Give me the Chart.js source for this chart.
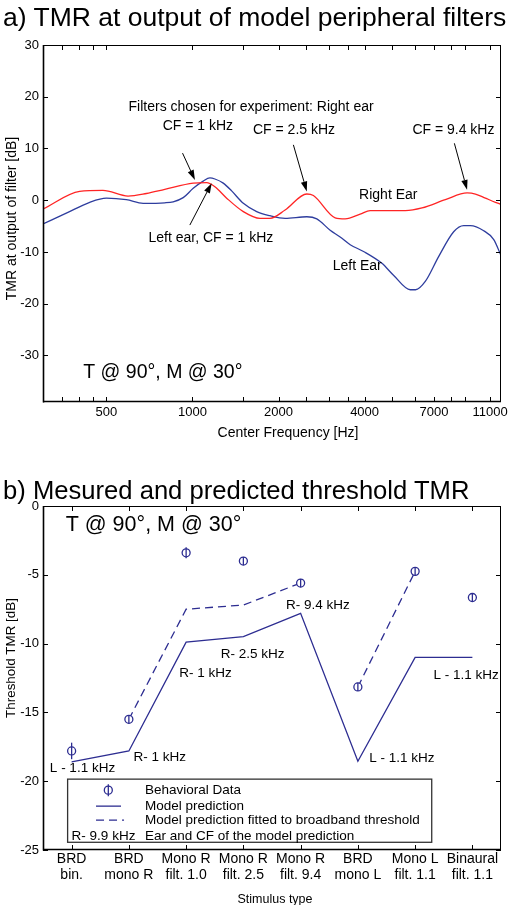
<!DOCTYPE html>
<html><head><meta charset="utf-8">
<script src="https://cdn.jsdelivr.net/npm/chart.js@4/dist/chart.umd.min.js"></script>
<style>
html,body{margin:0;padding:0;background:#fff;}
body{width:510px;height:905px;position:relative;overflow:hidden;font-family:"Liberation Sans",Arial,sans-serif;}
canvas{position:absolute;left:0;}
.ttl{position:absolute;left:3px;white-space:nowrap;color:#000;line-height:34px;height:34px;}
</style></head><body>
<canvas id="c1" width="510" height="450" style="top:0px"></canvas>
<canvas id="c2" width="510" height="450" style="top:455px"></canvas>
<div class="ttl" id="t1" style="top:0px">a) TMR at output of model peripheral filters</div>
<div class="ttl" id="t2" style="top:473px">b) Mesured and predicted threshold TMR</div>
<script>
// ---------- DATA (a) ----------
const rightFreq = [300,403,486,595,690,800,1006,1121,1198,1317,1506,1723,1867,2108,2511,2648,3155,3421,3860,4185,5551,6352,7665,9131,9767,10586,11476,12000];
const rightTMR  = [-1.7,1.7,1.9,0.8,1.3,2.1,3.3,3.4,2.6,0.4,-2.2,-3.5,-3.5,-1.9,1.2,0.9,-3.4,-3.6,-2.7,-2.0,-2.0,-1.5,0.1,1.4,1.2,0.4,-0.4,-0.8];
const leftFreq  = [300,362,437,500,587,672,800,856,928,1006,1090,1151,1198,1281,1371,1506,1677,1867,2108,2511,2722,3031,3285,3562,3965,4598,5049,5778,6030,6521,7261,8197,8886,9378,10441,11321,12000];
const leftTMR   = [-4.6,-2.5,-0.4,0.4,0.1,-0.6,-0.5,-0.3,0.5,2.3,3.7,4.3,4.1,3.3,1.8,-0.6,-2.2,-3.0,-3.5,-3.2,-3.6,-5.8,-7.1,-8.6,-9.9,-12.2,-14.5,-17.3,-17.3,-15.7,-10.9,-6.1,-4.9,-4.9,-5.9,-7.6,-10.7];
const freqTicks  = [350,400,450,500,1000,1500,2000,2500,3000,3500,4000,5000,6000,7000,8000,9000,11000];
const freqLabels = [500,1000,2000,4000,7000,11000];
const tmrTicks   = [-30,-20,-10,0,10,20,30];

// ---------- DATA (b) ----------
const categories = [['BRD','bin.'],['BRD','mono R'],['Mono R','filt. 1.0'],['Mono R','filt. 2.5'],['Mono R','filt. 9.4'],['BRD','mono L'],['Mono L','filt. 1.1'],['Binaural','filt. 1.1']];
const behavioral    = [-17.8,-15.5,-3.4,-4.0,-5.6,-13.15,-4.75,-6.65];
const behavioralErr = [0.6,0.3,0.4,0.3,0.3,0.3,0.3,0.3];
const modelPred     = [-18.6,-17.8,-9.9,-9.5,-7.8,-18.55,-11.0,-11.0];
const fittedRight   = [null,-15.5,-7.5,-7.2,-5.6,null,null,null];
const fittedLeft    = [null,null,null,null,null,-13.15,-4.75,null];
const thrTicks      = [-25,-20,-15,-10,-5,0];

// ---------- annotations ----------
const notesA = [
  ['Filters chosen for experiment: Right ear',1603,18.0],
  ['CF = 1 kHz',1044,14.4],
  ['CF = 2.5 kHz',2266,13.6],
  ['CF = 9.4 kHz',8180,13.6],
  ['Right Ear',4840,1.0],
  ['Left ear, CF = 1 kHz',1160,-7.3],
  ['Left Ear',3768,-12.8]
];
const arrowsA = [[923,9.1,1020,3.9],[979,-4.8,1167,3.3],[2254,10.7,2511,1.7],[8243,11.0,9131,2.0]];
const notesB = [
  ['R- 2.5 kHz',3.16,-10.77],['R- 1 kHz',2.34,-12.13],['R- 9.4 kHz',4.3,-7.21],
  ['L - 1.1 kHz',6.89,-12.3],['L - 1.1 kHz',5.77,-18.34],['R- 1 kHz',1.54,-18.27],['L - 1.1 kHz',0.19,-19.07]
];
const legendRows = ['Behavioral Data','Model prediction','Model prediction fitted to broadband threshold','Ear and CF of the model prediction'];

const FONT = '"Liberation Sans", Arial, sans-serif';
Chart.defaults.font.family = FONT;
Chart.defaults.color = '#000';
const RED = '#ff2424', BLUE = '#2e3d9e', NAVY = '#2d2d91';

function fitTitle(id, w){
  const el = document.getElementById(id);
  const c = document.createElement('canvas').getContext('2d');
  c.font = '100px ' + FONT;
  const m = c.measureText(el.textContent).width;
  el.style.fontSize = (100 * w / m) + 'px';
}
fitTitle('t1', 504); fitTitle('t2', 467);

function txt(ctx, s, x, y, size, align, rot){
  ctx.save();
  ctx.font = size + 'px ' + FONT; ctx.fillStyle = '#000';
  ctx.textAlign = align || 'center'; ctx.textBaseline = 'middle';
  ctx.translate(x, y); if (rot) ctx.rotate(rot);
  ctx.fillText(s, 0, 0); ctx.restore();
}
function line(ctx, x1, y1, x2, y2){ ctx.beginPath(); ctx.moveTo(x1,y1); ctx.lineTo(x2,y2); ctx.stroke(); }
function drawFrame(chart, isCat){
  const {ctx, chartArea:a, scales:{x, y}} = chart;
  ctx.save();
  ctx.strokeStyle = '#000'; ctx.lineWidth = 1;
  ctx.strokeRect(a.left + 0.5, a.top + 0.5, a.right - a.left - 1, a.bottom - a.top - 1);
  ctx.lineWidth = 1.6;
  line(ctx, a.left + 0.5, a.top, a.left + 0.5, a.bottom + 0.5);
  line(ctx, a.left, a.bottom - 0.5, a.right, a.bottom - 0.5);
  ctx.lineWidth = 1;
  x.ticks.forEach((t, i) => {
    const px = Math.round(isCat ? x.getPixelForTick(i) : x.getPixelForValue(t.value)) + 0.5;
    line(ctx, px, a.bottom, px, a.bottom - 5); line(ctx, px, a.top, px, a.top + 5);
  });
  y.ticks.forEach(t => {
    const py = Math.round(y.getPixelForValue(t.value)) + 0.5;
    line(ctx, a.left, py, a.left + 5, py); line(ctx, a.right, py, a.right - 5, py);
  });
  ctx.restore();
}

const pluginA = {
  id: 'annA',
  afterDraw(chart){
    drawFrame(chart, false);
    const {ctx, chartArea:a, scales:{x, y}} = chart;
    notesA.forEach(n => txt(ctx, n[0], x.getPixelForValue(n[1]), y.getPixelForValue(n[2]), 14));
    txt(ctx, 'T @ 90\u00b0, M @ 30\u00b0', x.getPixelForValue(788), y.getPixelForValue(-33.3), 19.5);
    ctx.save(); ctx.strokeStyle = '#000'; ctx.fillStyle = '#000'; ctx.lineWidth = 1;
    arrowsA.forEach(r => {
      const x1 = x.getPixelForValue(r[0]), y1 = y.getPixelForValue(r[1]);
      const x2 = x.getPixelForValue(r[2]), y2 = y.getPixelForValue(r[3]);
      const ang = Math.atan2(y2 - y1, x2 - x1), L = 10, W = 3.2;
      const bx = x2 - L * Math.cos(ang), by = y2 - L * Math.sin(ang);
      line(ctx, x1, y1, bx, by);
      ctx.beginPath(); ctx.moveTo(x2, y2);
      ctx.lineTo(bx + W * Math.sin(ang), by - W * Math.cos(ang));
      ctx.lineTo(bx - W * Math.sin(ang), by + W * Math.cos(ang));
      ctx.closePath(); ctx.fill();
    });
    ctx.restore();
    txt(ctx, 'Center Frequency [Hz]', 288, 433, 14);
    txt(ctx, 'TMR at output of filter [dB]', 12.5, 218.5, 14, 'center', -Math.PI / 2);
  }
};

new Chart(document.getElementById('c1'), {
  type: 'line',
  data: { datasets: [
    { label: 'Right Ear', data: rightFreq.map((f, i) => ({x: f, y: rightTMR[i]})), borderColor: RED, borderWidth: 1.3, pointRadius: 0, cubicInterpolationMode: 'monotone' },
    { label: 'Left Ear', data: leftFreq.map((f, i) => ({x: f, y: leftTMR[i]})), borderColor: BLUE, borderWidth: 1.3, pointRadius: 0, cubicInterpolationMode: 'monotone' }
  ]},
  options: {
    responsive: false, animation: false, devicePixelRatio: 1,
    layout: { padding: { top: 45, right: 9, left: 0, bottom: 0 } },
    plugins: { legend: { display: false }, tooltip: { enabled: false } },
    scales: {
      x: {
        type: 'logarithmic', min: 300, max: 12000,
        grid: { display: false, drawTicks: false }, border: { display: false },
        afterBuildTicks(s){ s.ticks = freqTicks.map(v => ({value: v})); },
        ticks: { autoSkip: false, maxRotation: 0, minRotation: 0, padding: 3, font: { size: 13 },
                 callback: v => freqLabels.includes(v) ? String(v) : '' },
        afterFit(s){ s.height = 48; s.paddingLeft = 0; s.paddingRight = 0; }
      },
      y: {
        type: 'linear', min: -39, max: 30,
        grid: { display: false, drawTicks: false }, border: { display: false },
        afterBuildTicks(s){ s.ticks = tmrTicks.map(v => ({value: v})); },
        ticks: { padding: 4, font: { size: 13 } },
        afterFit(s){ s.width = 43; s.paddingTop = 0; s.paddingBottom = 0; }
      }
    }
  },
  plugins: [pluginA]
});

const pluginB = {
  id: 'annB',
  afterDatasetsDraw(chart){
    const {ctx, scales:{x, y}} = chart;
    ctx.save(); ctx.strokeStyle = NAVY; ctx.lineWidth = 1.3;
    behavioral.forEach((v, i) => {
      const px = x.getPixelForValue(i);
      line(ctx, px, y.getPixelForValue(v + behavioralErr[i]), px, y.getPixelForValue(v - behavioralErr[i]));
    });
    ctx.restore();
  },
  afterDraw(chart){
    drawFrame(chart, true);
    const {ctx, scales:{x, y}} = chart;
    notesB.forEach(n => txt(ctx, n[0], x.getPixelForValue(n[1]), y.getPixelForValue(n[2]), 13.5));
    txt(ctx, 'T @ 90\u00b0, M @ 30\u00b0', x.getPixelForValue(1.43), y.getPixelForValue(-1.4), 21.5);
    // legend box
    const L = x.getPixelForValue(-0.07), R = x.getPixelForValue(6.29);
    const T = y.getPixelForValue(-19.85), B = y.getPixelForValue(-24.44);
    ctx.save();
    ctx.fillStyle = '#fff'; ctx.fillRect(L, T, R - L, B - T);
    ctx.strokeStyle = '#333'; ctx.lineWidth = 1.3; ctx.strokeRect(L, T, R - L, B - T);
    const rows = [T + 11, T + 27, T + 41, T + 56.7];
    ctx.strokeStyle = NAVY; ctx.lineWidth = 1.3;
    ctx.beginPath(); ctx.arc(L + 40.7, rows[0], 4, 0, Math.PI * 2); ctx.stroke();
    line(ctx, L + 40.7, rows[0] - 6, L + 40.7, rows[0] + 6);
    line(ctx, L + 28.4, rows[1], L + 53.4, rows[1]);
    ctx.setLineDash([8, 5]); line(ctx, L + 28.4, rows[2], L + 56.4, rows[2]); ctx.setLineDash([]);
    ctx.restore();
    legendRows.forEach((s, i) => txt(ctx, s, L + 77.4, rows[i], 13.5, 'left'));
    txt(ctx, 'R- 9.9 kHz', L + 4, rows[3], 13.5, 'left');
    txt(ctx, 'Threshold TMR [dB]', 11, 203, 13.4, 'center', -Math.PI / 2);
    txt(ctx, 'Stimulus type', 275, 445, 12.5);
  }
};

new Chart(document.getElementById('c2'), {
  type: 'line',
  data: { labels: categories, datasets: [
    { label: 'Behavioral Data', data: behavioral, showLine: false, pointRadius: 4, pointStyle: 'circle', borderColor: NAVY, backgroundColor: '#fff', pointBorderWidth: 1.3 },
    { label: 'Model prediction', data: modelPred, borderColor: NAVY, borderWidth: 1.3, pointRadius: 0 },
    { label: 'Model prediction fitted to broadband threshold', data: fittedRight, borderColor: NAVY, borderWidth: 1.3, borderDash: [8, 5], pointRadius: 0, spanGaps: false },
    { label: 'fitted (left)', data: fittedLeft, borderColor: NAVY, borderWidth: 1.3, borderDash: [8, 5], pointRadius: 0, spanGaps: false }
  ]},
  options: {
    responsive: false, animation: false, devicePixelRatio: 1,
    layout: { padding: { top: 51, right: 9, left: 0, bottom: 0 } },
    plugins: { legend: { display: false }, tooltip: { enabled: false } },
    scales: {
      x: {
        type: 'category', offset: true,
        grid: { display: false, drawTicks: false }, border: { display: false },
        ticks: { autoSkip: false, maxRotation: 0, minRotation: 0, padding: 1, font: { size: 14, lineHeight: 1.15 } },
        afterFit(s){ s.height = 55; s.paddingLeft = 0; s.paddingRight = 0; }
      },
      y: {
        type: 'linear', min: -25, max: 0,
        grid: { display: false, drawTicks: false }, border: { display: false },
        afterBuildTicks(s){ s.ticks = thrTicks.map(v => ({value: v})); },
        ticks: { padding: 4, font: { size: 13 } },
        afterFit(s){ s.width = 43; s.paddingTop = 0; s.paddingBottom = 0; }
      }
    }
  },
  plugins: [pluginB]
});
</script>
</body></html>
